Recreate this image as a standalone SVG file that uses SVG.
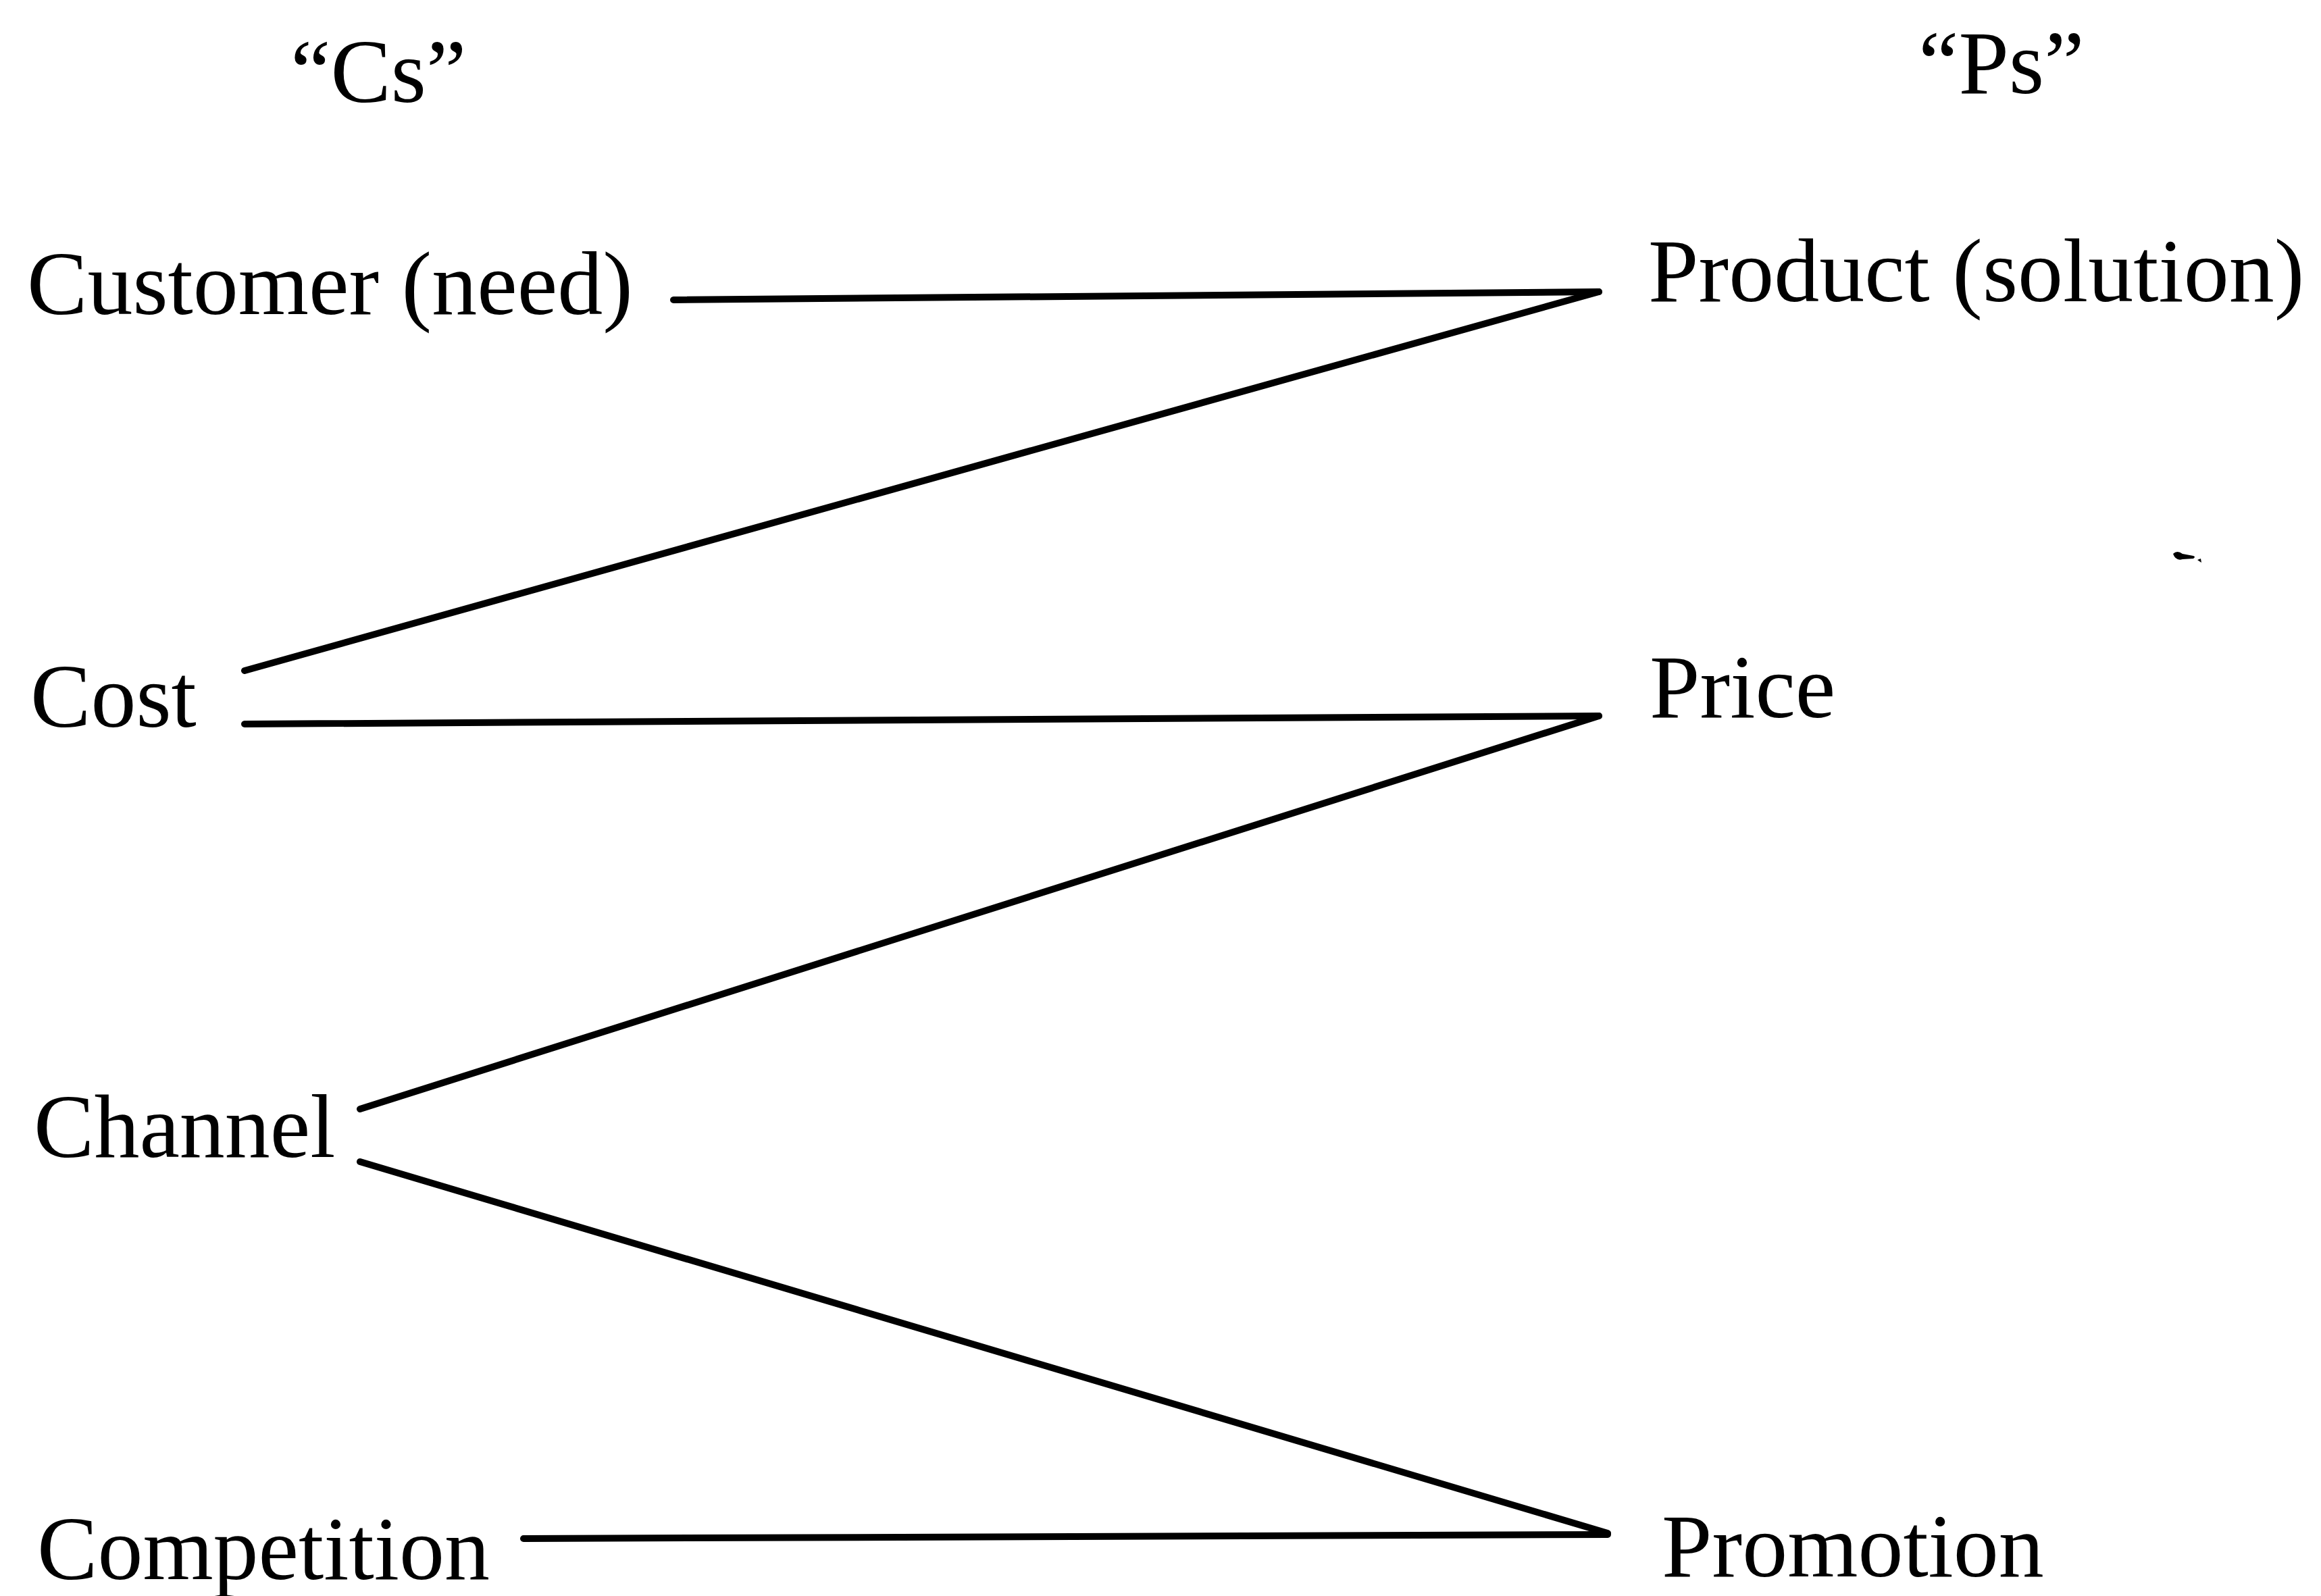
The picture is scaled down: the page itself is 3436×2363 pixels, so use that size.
<svg xmlns="http://www.w3.org/2000/svg" width="3436" height="2363" viewBox="0 0 3436 2363">
  <style>
    .label { font-family: "Liberation Serif", "Times New Roman", serif; font-size: 134px; fill: #000; }
    .link { stroke: #000; stroke-width: 10; stroke-linecap: round; fill: none; }
  </style>
  <rect width="3436" height="2363" fill="#fff"/>

  <!-- column headings -->
  <g id="heading-cs"><text class="label" x="430" y="151">“Cs”</text></g>
  <g id="heading-ps"><text class="label" x="2840" y="138">“Ps”</text></g>

  <!-- left column -->
  <g id="customer"><text class="label" x="40" y="465">Customer (need)</text></g>
  <g id="cost"><text class="label" x="45" y="1076">Cost</text></g>
  <g id="channel"><text class="label" x="50" y="1713">Channel</text></g>
  <g id="competition"><text class="label" x="55" y="2338">Competition</text></g>

  <!-- right column -->
  <g id="product"><text class="label" x="2440" y="446">Product (solution)</text></g>
  <g id="price"><text class="label" x="2442" y="1062">Price</text></g>
  <g id="promotion"><text class="label" x="2460" y="2334">Promotion</text></g>

  <!-- zig-zag connectors between the two columns -->
  <g id="connectors">
    <line class="link" x1="997" y1="444" x2="2367" y2="432"/>
    <line class="link" x1="2367" y1="432" x2="362" y2="993"/>
    <line class="link" x1="362" y1="1072" x2="2367" y2="1060"/>
    <line class="link" x1="2367" y1="1060" x2="533" y2="1642"/>
    <line class="link" x1="533" y1="1720" x2="2380" y2="2270"/>
    <line class="link" x1="775" y1="2278" x2="2380" y2="2272"/>
  </g>

  <!-- small speck on the right -->
  <path d="M3217 820 q6 -6 14 0 l16 3 q4 1 0 4 l-16 1 q-10 3 -14 -8 z M3253 829 l5 -2 l1 6 z" fill="#000"/>
</svg>
